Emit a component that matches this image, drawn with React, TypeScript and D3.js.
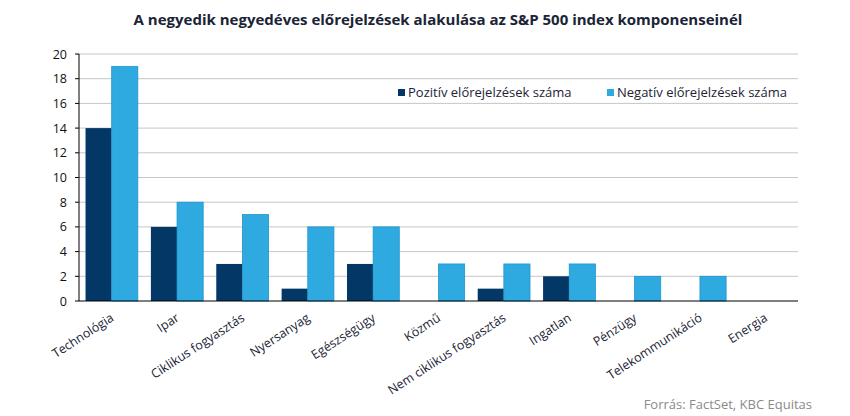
import * as d3 from "d3";

const categories = [
  "Technológia",
  "Ipar",
  "Ciklikus fogyasztás",
  "Nyersanyag",
  "Egészségügy",
  "Közmű",
  "Nem ciklikus fogyasztás",
  "Ingatlan",
  "Pénzügy",
  "Telekommunikáció",
  "Energia",
];
const positive = [14, 6, 3, 1, 3, 0, 1, 2, 0, 0, 0];
const negative = [19, 8, 7, 6, 6, 3, 3, 3, 2, 2, 0];
const yTicks = [0, 2, 4, 6, 8, 10, 12, 14, 16, 18, 20];
const seriesNames = ["Pozitív előrejelzések száma", "Negatív előrejelzések száma"];

const width = 850;
const height = 416;
const plot = { left: 79, right: 798, top: 54, bottom: 301 };
const darkBlue = "#033766";
const lightBlue = "#2eaae1";
const font = "'Open Sans', 'DejaVu Sans', sans-serif";

export default function App() {
  const x = d3.scaleBand<string>().domain(categories).range([plot.left, plot.right]);
  const y = d3.scaleLinear().domain([0, 20]).range([plot.bottom, plot.top]);
  const barW = x.bandwidth() * 0.4;
  const center = (c: string) => (x(c) ?? 0) + x.bandwidth() / 2;

  return (
    <svg width={width} height={height} style={{ position: "absolute", left: 0, top: 0, fontFamily: font }}>
      <rect width={width} height={height} fill="#ffffff" />
      <text x={438} y={25} textAnchor="middle" fontSize={15} fontWeight={700} fill="#1b2436">
        A negyedik negyedéves előrejelzések alakulása az S&amp;P 500 index komponenseinél
      </text>

      {yTicks.map((t) => (
        <g key={t}>
          {t > 0 ? <line x1={plot.left} x2={plot.right} y1={y(t)} y2={y(t)} stroke="#c6c6c6" /> : null}
          <line x1={plot.left - 4} x2={plot.left} y1={y(t)} y2={y(t)} stroke="#000" />
          <text x={67} y={y(t) + 4.5} textAnchor="end" fontSize={12.5} fill="#111">{t}</text>
        </g>
      ))}

      {categories.map((c, i) => (
        <g key={c}>
          {positive[i] > 0 ? (
            <rect x={center(c) - barW} y={y(positive[i])} width={barW} height={plot.bottom - y(positive[i])} fill={darkBlue} />
          ) : null}
          {negative[i] > 0 ? (
            <rect x={center(c)} y={y(negative[i])} width={barW} height={plot.bottom - y(negative[i])} fill={lightBlue} stroke="#1f94cf" strokeWidth={0.8} />
          ) : null}
          <text
            transform={`translate(${center(c) + 3}, ${320}) rotate(-33)`}
            textAnchor="end"
            fontSize={12.5}
            fill="#1b2436"
          >
            {c}
          </text>
        </g>
      ))}

      <line x1={plot.left} x2={plot.left} y1={plot.top} y2={plot.bottom} stroke="#000" />
      <line x1={plot.left} x2={plot.right} y1={plot.bottom} y2={plot.bottom} stroke="#000" />

      <rect x={398} y={89} width={7} height={7} fill={darkBlue} />
      <text x={408} y={97} fontSize={13} fill="#1b2436">{seriesNames[0]}</text>
      <rect x={607} y={89} width={7} height={7} fill={lightBlue} />
      <text x={617} y={97} fontSize={13} fill="#1b2436">{seriesNames[1]}</text>

      <text x={812} y={409} textAnchor="end" fontSize={13} fill="#8a8a8a">Forrás: FactSet, KBC Equitas</text>
    </svg>
  );
}
